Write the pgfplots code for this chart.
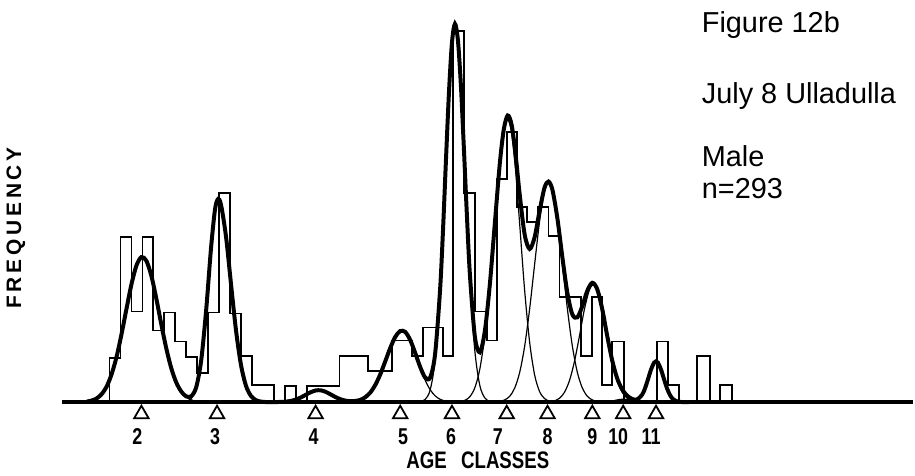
\documentclass[border=0pt]{standalone}
\usepackage{pgfplots}
\pgfplotsset{compat=1.18}
\usepackage{fontspec}
\setmainfont{Liberation Sans}
\newfontfamily\narrow[FakeStretch=0.78]{Liberation Sans}
\begin{document}
\begin{tikzpicture}
\begin{axis}[
  width=457.5pt, height=237.5pt, scale only axis,
  xmin=0, xmax=915, ymin=-71, ymax=404,
  hide axis, clip=false,
]
\path (axis cs:0,-71) rectangle (axis cs:915,404);
% histogram (left edge, height)
\addplot[const plot, black, line width=0.9pt] coordinates {
(100,0)(108,44)(119,166)(130,91)(141,166)(152,72)(163,90)(174,61)(185,45)(196,29)(207,90)(218,210)(229,89)(240,46)(251,17)(273,0)(284,16)(295,0)(306,16)(339,46)(368,31)(392,62)(412,46)(423,75)(443,46)(453,373)(464,210)(475,91)(487,62)(497,224)(507,271)(517,196)(527,181)(538,196)(549,167)(560,106)(582,46)(593,106)(603,17)(613,61)(625,0)(658,61)(669,17)(680,0)(698,46)(711,0)(721,17)(733,0)};
% components
\addplot[smooth, black, line width=0.6pt] coordinates {(90,1.6)(95,3.7)(100,8.0)(105,15.5)(110,27.9)(115,45.3)(120,68.2)(125,93.7)(130,118.4)(135,137.2)(140,145.7)(145,142)(150,126.9)(155,104)(160,78.1)(165,54)(170,34.1)(175,19.8)(180,10.6)(185,5.1)(190,2.3)(195,0.9)(200,0.35)};
\addplot[smooth, black, line width=0.6pt] coordinates {(180,0.05)(185,0.7)(190,3.6)(195,13.9)(200,41)(205,91.8)(210,155.4)(214,194)(217,204)(220,198.2)(225,166.3)(230,118.8)(235,72.4)(240,37.6)(245,16.6)(250,6.3)(255,2)(260,0.55)(265,0.1)};
\addplot[smooth, black, line width=0.6pt] coordinates {(270,0)(280,0.17)(285,0.48)(290,1.2)(295,2.5)(300,4.6)(305,7.3)(310,9.9)(315,11.7)(320,11.9)(325,10.4)(330,7.8)(335,5.1)(340,2.9)(345,1.4)(350,0.6)(355,0.2)(365,0)};
\addplot[smooth, black, line width=0.6pt] coordinates {(345,0.13)(350,0.37)(355,0.96)(360,2.3)(365,5)(370,9.7)(375,17.3)(380,28)(385,41)(390,54.4)(395,65.5)(400,71.4)(402,72)(405,70.6)(410,62.5)(415,49.5)(420,35.1)(425,22.2)(430,12.6)(435,6.4)(440,2.9)(445,1.2)(450,0.43)(455,0.14)};
\addplot[smooth, black, line width=0.6pt] coordinates {(420,0.44)(425,2.6)(430,11.9)(435,41.4)(440,109)(443,171)(446,243)(449,311)(452,361)(455,380)(458,363)(461,317)(464,253)(467,185)(470,123)(475,51.4)(480,16.7)(485,4.2)(490,0.8)(495,0.1)};
\addplot[smooth, black, line width=0.6pt] coordinates {(460,0.5)(465,1.8)(470,5.5)(475,14.5)(480,33.3)(485,67)(490,117)(495,178.6)(500,238.3)(504,271.8)(508,284)(512,269.8)(516,231.5)(520,179.2)(525,112.5)(530,60.5)(535,27.5)(540,10.7)(545,3.6)(550,1)(555,0.25)};
\addplot[smooth, black, line width=0.6pt] coordinates {(500,0.7)(505,2.2)(510,5.9)(515,14.1)(520,29.8)(525,56)(530,93.4)(535,138)(540,181.4)(545,211.8)(549,220)(553,211.8)(558,181.4)(563,138)(568,93.4)(573,56)(578,29.8)(583,14.1)(588,5.9)(593,2.2)(598,0.7)};
\addplot[smooth, black, line width=0.6pt] coordinates {(550,0.39)(555,1.3)(560,3.9)(565,9.8)(570,21.5)(575,40.6)(580,66)(585,93)(590,112.6)(594,118)(598,112.6)(603,93)(608,66)(613,40.6)(618,21.5)(623,9.8)(628,3.9)(633,1.3)(638,0.39)};
\addplot[smooth, black, line width=0.6pt] coordinates {(604,0)(608,0.41)(612,0.97)(616,1.8)(620,2.6)(624,3)(628,2.6)(632,1.8)(636,0.97)(640,0.41)(644,0)};
\addplot[smooth, black, line width=0.6pt] coordinates {(632,0.16)(636,0.8)(640,3.1)(643,7.2)(646,14)(649,23.2)(652,32.8)(655,39.6)(657,41)(659,39.6)(662,32.8)(665,23.2)(668,14)(671,7.2)(674,3.1)(678,0.8)(682,0.16)};
% total fitted curve
\addplot[smooth, black, line width=2pt] coordinates {(85,0.5)(90,1.6)(95,3.7)(100,8.0)(105,15.5)(110,27.9)(115,45.3)(120,68.2)(125,93.7)(130,118.4)(135,137.2)(140,145.7)(145,142)(150,126.9)(155,104)(160,78.1)(165,54)(170,34.1)(175,19.8)(180,10.7)(185,5.8)(190,5.9)(195,14.8)(200,41.4)(205,91.8)(210,155.4)(214,194)(217,204)(220,198.2)(225,166.3)(230,118.8)(235,72.4)(240,37.6)(245,16.6)(250,6.3)(255,2)(260,0.55)(265,0.1)(270,0)(280,0.2)(285,0.5)(290,1.2)(295,2.5)(300,4.6)(305,7.3)(310,9.9)(315,11.7)(320,11.9)(325,10.4)(330,7.8)(335,5.1)(340,2.9)(345,1.5)(350,1.0)(355,1.2)(360,2.3)(365,5)(370,9.7)(375,17.3)(380,28)(385,41)(390,54.4)(395,65.5)(400,71.4)(405,70.6)(410,62.5)(415,49.6)(420,35.5)(425,24.8)(430,24.5)(435,47.8)(440,111.9)(443,172.7)(446,244)(449,311.5)(452,361.2)(455,380)(458,363.3)(461,317.7)(464,254.4)(467,187.8)(470,128.5)(475,65.9)(480,50)(485,71.2)(490,117.8)(495,178.7)(500,239)(504,273.6)(508,288)(512,278.3)(516,248)(520,209)(525,168.5)(530,153.9)(535,165.5)(540,192.1)(545,215.5)(549,221.6)(553,213)(558,184)(563,144.9)(568,109.4)(573,88)(578,85.2)(583,96.6)(588,112)(593,119.9)(598,113.3)(603,93.3)(608,66.4)(613,41.8)(618,23.8)(623,12.8)(628,6.5)(633,3.2)(638,2.7)(643,7.4)(646,14)(649,23.2)(652,32.8)(655,39.6)(657,41)(659,39.6)(662,32.8)(665,23.2)(668,14)(671,7.2)(674,3.1)(678,0.8)(682,0.16)(690,0)};
% baseline
\addplot[black, line width=2.2pt] coordinates {(60,0)(915,0)};
% age-class markers
\addplot[only marks, mark=triangle, mark size=4.2pt, mark options={line width=0.9pt, fill=white}] coordinates {(140,-12)(216,-12)(315,-12)(400,-12)(452,-12)(507,-12)(548,-12)(593,-12)(624,-12)(657,-12)};
% labels
\begin{scope}[every node/.style={font=\narrow\bfseries\fontsize{11.5}{13}\selectfont, anchor=base}]
\node at (axis cs:136,-43) {2};
\node at (axis cs:214,-43) {3};
\node at (axis cs:313,-43) {4};
\node at (axis cs:403,-43) {5};
\node at (axis cs:451,-43) {6};
\node at (axis cs:498,-43) {7};
\node at (axis cs:548,-43) {8};
\node at (axis cs:593,-43) {9};
\node at (axis cs:619,-43) {10};
\node at (axis cs:652,-43) {11};
\end{scope}
\node[font=\narrow\bfseries\fontsize{12}{14}\selectfont, anchor=base] at (axis cs:478,-67) {AGE\hspace{0.6em}CLASSES};
\node[font=\bfseries\fontsize{10.5}{12}\selectfont, rotate=90] at (axis cs:14,175) {\addfontfeature{LetterSpace=18}FREQUENCY};
\begin{scope}[every node/.style={font=\fontsize{14.5}{17}\selectfont, anchor=base west}]
\node at (axis cs:696,371) {Figure 12b};
\node at (axis cs:696,300) {July 8 Ulladulla};
\node at (axis cs:696,237) {Male};
\node at (axis cs:696,205) {n=293};
\end{scope}
\end{axis}
\end{tikzpicture}
\end{document}
